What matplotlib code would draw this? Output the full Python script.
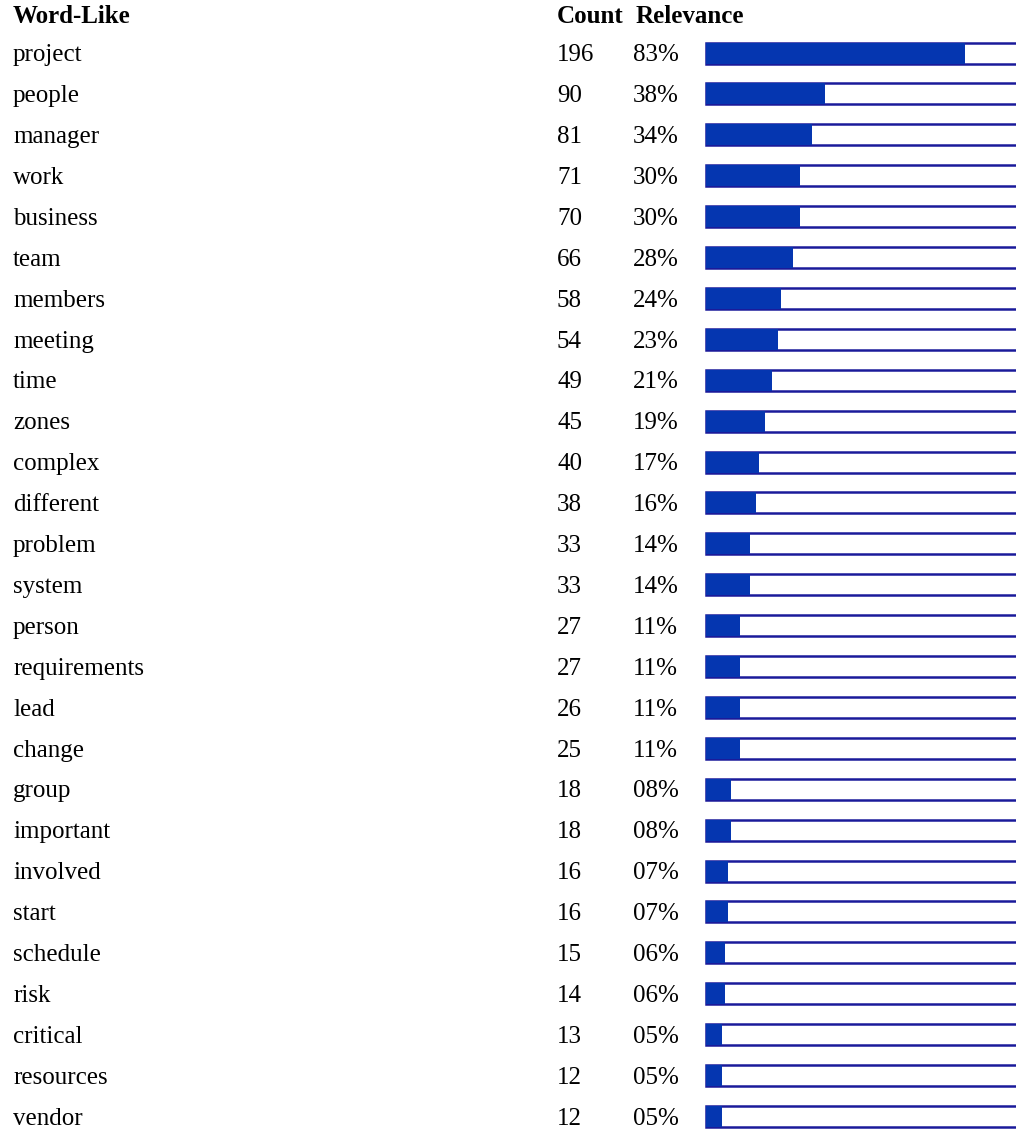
import numpy as np
import matplotlib
matplotlib.use("Agg")
import matplotlib.pyplot as plt

words = ["project", "people", "manager", "work", "business", "team", "members",
         "meeting", "time", "zones", "complex", "different", "problem", "system",
         "person", "requirements", "lead", "change", "group", "important",
         "involved", "start", "schedule", "risk", "critical", "resources", "vendor"]
counts = [196, 90, 81, 71, 70, 66, 58, 54, 49, 45, 40, 38, 33, 33, 27, 27, 26,
          25, 18, 18, 16, 16, 15, 14, 13, 12, 12]
relevance = [83, 38, 34, 30, 30, 28, 24, 23, 21, 19, 17, 16, 14, 14, 11, 11, 11,
             11, 8, 8, 7, 7, 6, 6, 5, 5, 5]

plt.rcParams['font.family'] = ['Liberation Serif', 'DejaVu Serif']

W, H = 1016, 1131
fig = plt.figure(figsize=(W / 100, H / 100), dpi=100)
ax = fig.add_axes([0, 0, 1, 1])
ax.set_xlim(0, W)
ax.set_ylim(H, 0)
ax.axis('off')

# layout in pixels
y0, pitch = 53, 40.9
ys = y0 + pitch * np.arange(len(words))
bar_left, bar_full, bar_h = 706, 312, 21
fill = '#0536b0'
edge = '#1a1a9a'
fs = 18
base = 8.3  # text baseline below row centre

ax.text(13, 23, "Word-Like", fontsize=fs, fontweight='bold', va='baseline')
ax.text(557, 23, "Count", fontsize=fs, fontweight='bold', va='baseline')
ax.text(636, 23, "Relevance", fontsize=fs, fontweight='bold', va='baseline')

# outline boxes
ax.barh(ys, [bar_full] * len(ys), left=bar_left, height=bar_h,
        color='white', edgecolor=edge, linewidth=1.8, zorder=1)
# filled portion
ax.barh(ys, np.array(relevance) / 100 * bar_full, left=bar_left, height=bar_h,
        color=fill, edgecolor='none', zorder=2)

for y, w, c, r in zip(ys, words, counts, relevance):
    ax.text(13, y + base, w, fontsize=fs, va='baseline')
    ax.text(557, y + base, str(c), fontsize=fs, va='baseline')
    ax.text(633, y + base, "%02d%%" % r, fontsize=fs, va='baseline')

fig.savefig("out.png", dpi=100)
